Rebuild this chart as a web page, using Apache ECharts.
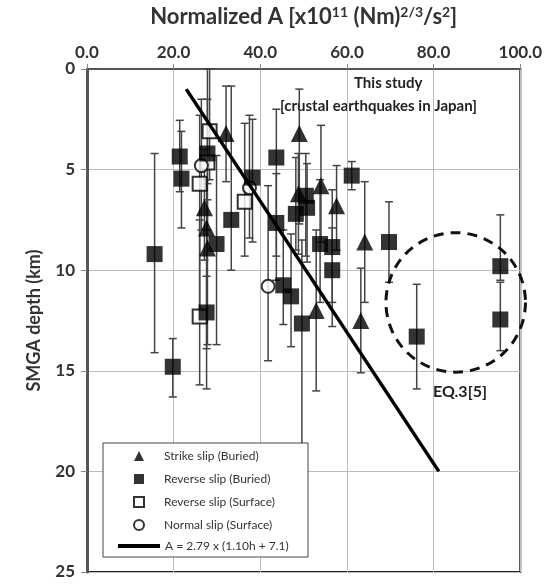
<!DOCTYPE html>
<html>
<head>
<meta charset="utf-8">
<title>SMGA depth vs normalized A</title>
<script src="https://cdn.jsdelivr.net/npm/echarts@6/dist/echarts.min.js"></script>
</head>
<body style="margin:0">
<div id="main" style="width:545px;height:586px;"></div>
<script>
// Strike slip (Buried): A, depth, error bar top / bottom (km)
var strikeA   = [32.1, 27.1, 27.6, 27.8, 49.0, 48.8, 54.0, 57.6, 64.1, 63.2, 52.9];
var strikeH   = [3.2, 6.9, 7.9, 8.9, 3.2, 6.2, 5.8, 6.8, 8.6, 12.5, 12.0];
var strikeLo  = [0.85, 4.0, 5.5, 6.5, 1.0, 4.2, 2.8, 4.8, 5.6, 9.9, 8.0];
var strikeHi  = [5.6, 9.5, 13.9, 13.7, 7.7, 9.2, 8.6, 9.0, 11.6, 15.1, 16.0];

// Reverse slip (Buried)
var revBA  = [15.6, 19.8, 21.4, 21.8, 27.8, 29.9, 27.6, 33.3, 38.2, 43.7, 43.7, 45.3, 47.1, 49.6,
              48.2, 50.5, 50.8, 53.8, 56.6, 56.6, 61.1, 69.7, 76.1, 95.4, 95.4];
var revBH  = [9.2, 14.8, 4.35, 5.45, 4.2, 8.7, 12.1, 7.5, 5.4, 4.4, 7.65, 10.75, 11.3, 12.65,
              7.2, 6.3, 6.9, 8.7, 8.85, 10.0, 5.3, 8.6, 13.3, 9.8, 12.45];
var revBLo = [4.2, 13.4, 2.55, 3.1, 0.0, 4.3, 10.3, 0.85, 2.5, 2.0, 5.2, 8.0, 8.2, 8.5,
              4.4, 4.2, 4.7, 5.5, 6.0, 7.9, 4.6, 6.6, 10.7, 7.25, 10.6];
var revBHi = [14.1, 16.3, 6.1, 7.9, 5.7, 13.7, 15.9, 10.0, 8.6, 9.3, 10.5, 12.7, 13.8, 19.0,
              9.0, 9.3, 9.6, 11.6, 12.8, 11.6, 6.0, 10.6, 15.9, 10.5, 14.0];

// Reverse slip (Surface)
var revSA  = [28.3, 27.8, 26.0, 36.4, 26.0];
var revSH  = [3.1, 4.65, 5.7, 6.6, 12.3];
var revSLo = [0.0, 1.5, 2.3, 2.7, 7.5];
var revSHi = [5.5, 8.0, 12.0, 9.3, 15.7];

// Normal slip (Surface)
var normA  = [26.4, 37.5, 41.8];
var normH  = [4.8, 5.9, 10.8];
var normLo = [1.5, 2.3, 5.8];
var normHi = [8.0, 8.4, 14.5];

// A = 2.79 x (1.10h + 7.1), end points
var fitA = [22.9, 81.2];
var fitH = [1.0, 20.0];

// EQ.3[5] dashed circle: centre and radius in A units
var eqCircle = [85.1, 11.6];
var eqRadiusA = 16.1;

var xTicks = [0, 20, 40, 60, 80, 100];
var yTicks = [0, 5, 10, 15, 20, 25];

var font = 'Lato, "Open Sans", sans-serif';

function pts(a, h) {
    return a.map(function (v, i) { return [v, h[i]]; });
}
function errs(a, lo, hi) {
    return a.map(function (v, i) { return [v, lo[i], hi[i]]; });
}

function errorBars(params, api) {
    var x = api.value(0);
    var p1 = api.coord([x, api.value(1)]);
    var p2 = api.coord([x, api.value(2)]);
    var w = 4;
    var st = { stroke: '#444', lineWidth: 1.5 };
    return {
        type: 'group',
        children: [
            { type: 'line', shape: { x1: p1[0], y1: p1[1], x2: p2[0], y2: p2[1] }, style: st },
            { type: 'line', shape: { x1: p1[0] - w, y1: p1[1], x2: p1[0] + w, y2: p1[1] }, style: st },
            { type: 'line', shape: { x1: p2[0] - w, y1: p2[1], x2: p2[0] + w, y2: p2[1] }, style: st }
        ]
    };
}

function errSeries(name, a, lo, hi) {
    return {
        name: name,
        type: 'custom',
        renderItem: errorBars,
        encode: { x: 0, y: [1, 2] },
        data: errs(a, lo, hi),
        z: 1,
        silent: true
    };
}

var legendText = { fontFamily: font, fontSize: 12, color: '#333', lineHeight: 14 };

var myChart = echarts.init(document.getElementById('main'));

var option = {
    animation: false,
    textStyle: { fontFamily: font },
    grid: {
        left: 87, right: 23, top: 62, bottom: 14,
        show: true, borderColor: '#222', borderWidth: 2
    },
    xAxis: {
        type: 'value',
        position: 'top',
        min: 0, max: 100, interval: 20,
        name: '{b|Normalized A [x10}{s|11}{b| (Nm)}{s|2/3}{b|/s}{s|2}{b|]}',
        nameLocation: 'middle',
        nameGap: 40,
        nameTextStyle: {
            rich: {
                b: { fontFamily: font, fontWeight: 'bold', fontSize: 22, color: '#333' },
                s: { fontFamily: font, fontWeight: 'bold', fontSize: 14, color: '#333', verticalAlign: 'bottom', padding: [0, 0, 10, 0] }
            }
        },
        axisLine: { show: true, lineStyle: { color: '#555', width: 2 } },
        axisTick: { show: true, inside: false, length: 5, lineStyle: { color: '#888' } },
        axisLabel: {
            fontFamily: font, fontWeight: 'bold', fontSize: 17, color: '#333', margin: 8,
            formatter: function (v) { return xTicks.indexOf(v) >= 0 ? v.toFixed(1) : ''; }
        },
        splitLine: { show: true, lineStyle: { color: '#bdbdbd', width: 1 } }
    },
    yAxis: {
        type: 'value',
        inverse: true,
        min: 0, max: 25, interval: 5,
        name: 'SMGA depth (km)',
        nameLocation: 'middle',
        nameGap: 44,
        nameTextStyle: { fontFamily: font, fontWeight: 'bold', fontSize: 18, color: '#333' },
        axisLine: { show: true, lineStyle: { color: '#555', width: 3 } },
        axisTick: { show: true, inside: false, length: 6, lineStyle: { color: '#888' } },
        axisLabel: {
            fontFamily: font, fontWeight: 'bold', fontSize: 17, color: '#333', margin: 12,
            formatter: function (v) { return yTicks.indexOf(v) >= 0 ? String(v) : ''; }
        },
        splitLine: { show: true, lineStyle: { color: '#bdbdbd', width: 1 } }
    },
    legend: [
        {
            left: 133, top: 450, z: 20,
            orient: 'vertical',
            data: ['Strike slip (Buried)', 'Reverse slip (Buried)', 'Reverse slip (Surface)',
                   'Normal slip (Surface)'],
            itemWidth: 10, itemHeight: 10, itemGap: 11,
            padding: 0,
            formatter: '{t|{name}}',
            textStyle: { rich: { t: Object.assign({ padding: [0, 0, 0, 15] }, legendText) } }
        },
        {
            left: 118, top: 539, z: 20,
            orient: 'vertical',
            data: [{ name: 'A = 2.79 x (1.10h + 7.1)', icon: 'rect' }],
            itemWidth: 42, itemHeight: 4,
            padding: 0,
            textStyle: legendText
        }
    ],
    graphic: [
        { type: 'rect', z: 10, shape: { x: 103, y: 443, width: 205, height: 114 },
          style: { fill: '#fff', stroke: '#444', lineWidth: 1 } },
        { type: 'text', left: 354, top: 76,
          style: { text: 'This study', font: 'bold 15px ' + font, fill: '#222' } },
        { type: 'text', left: 280, top: 99,
          style: { text: '[crustal earthquakes in Japan]', font: 'bold 15px ' + font, fill: '#222' } },
        { type: 'text', left: 433, top: 384,
          style: { text: 'EQ.3[5]', font: 'bold 16px ' + font, fill: '#222' } }
    ],
    series: [
        errSeries('err-strike', strikeA, strikeLo, strikeHi),
        errSeries('err-revB', revBA, revBLo, revBHi),
        errSeries('err-revS', revSA, revSLo, revSHi),
        errSeries('err-norm', normA, normLo, normHi),
        {
            name: 'Reverse slip (Surface)', type: 'scatter', symbol: 'rect', symbolSize: 14,
            itemStyle: { color: '#fff', borderColor: '#000', borderWidth: 2 },
            data: pts(revSA, revSH), z: 3
        },
        {
            name: 'Normal slip (Surface)', type: 'scatter', symbol: 'circle', symbolSize: 13,
            itemStyle: { color: '#fff', borderColor: '#000', borderWidth: 2 },
            data: pts(normA, normH), z: 3
        },
        {
            name: 'Strike slip (Buried)', type: 'scatter', symbol: 'triangle', symbolSize: 17,
            itemStyle: { color: '#000' },
            data: pts(strikeA, strikeH), z: 4
        },
        {
            name: 'Reverse slip (Buried)', type: 'scatter', symbol: 'rect', symbolSize: 16,
            itemStyle: { color: '#000' },
            data: pts(revBA, revBH), z: 4
        },
        {
            name: 'A = 2.79 x (1.10h + 7.1)', type: 'line', symbol: 'none', color: '#000',
            lineStyle: { color: '#000', width: 3.5 },
            data: pts(fitA, fitH), z: 5
        },
        {
            name: 'eq-circle', type: 'custom', z: 2, silent: true,
            encode: { x: 0, y: 1 },
            data: [[eqCircle[0], eqCircle[1], eqRadiusA]],
            renderItem: function (params, api) {
                var c = api.coord([api.value(0), api.value(1)]);
                var r = api.size([api.value(2), 0])[0];
                return {
                    type: 'circle',
                    shape: { cx: c[0], cy: c[1], r: r },
                    style: { fill: 'none', stroke: '#111', lineWidth: 3, lineDash: [10, 7] }
                };
            }
        }
    ]
};

myChart.setOption(option);
</script>
</body>
</html>
